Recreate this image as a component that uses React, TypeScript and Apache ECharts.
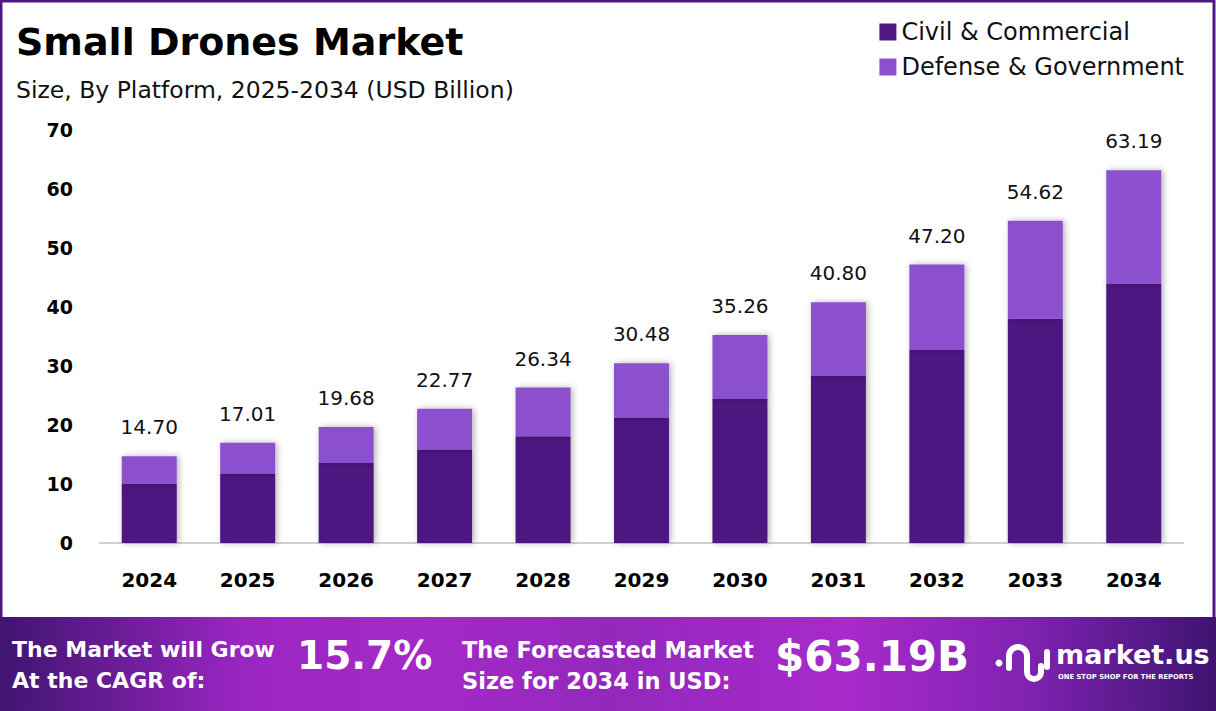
import React, { useEffect, useRef } from "react";
import * as echarts from "echarts";

const years = ["2024", "2025", "2026", "2027", "2028", "2029", "2030", "2031", "2032", "2033", "2034"];
const totals = [14.7, 17.01, 19.68, 22.77, 26.34, 30.48, 35.26, 40.8, 47.2, 54.62, 63.19];
const civil = [10.0, 11.7, 13.56, 15.76, 18.1, 21.2, 24.4, 28.3, 32.7, 38.0, 43.9];
const defense = totals.map((t, i) => +(t - civil[i]).toFixed(2));
const seriesNames = ["Civil & Commercial", "Defense & Government"];
const colors = ["#4E1781", "#8C50CD"];

const FONT = "'DejaVu Sans', 'Open Sans', sans-serif";

export default function App() {
  const ref = useRef<HTMLDivElement>(null);
  useEffect(() => {
    document.body.style.margin = "0";
    const chart = echarts.init(ref.current!, null, { renderer: "svg" });
    const white = "#ffffff";
    chart.setOption({
      animation: false,
      backgroundColor: "#ffffff",
      textStyle: { fontFamily: FONT },
      title: {
        text: "Small Drones Market",
        subtext: "Size, By Platform, 2025-2034 (USD Billion)",
        left: 11,
        top: 18,
        itemGap: 17,
        textStyle: { fontSize: 38, fontWeight: "bold", color: "#000", fontFamily: FONT },
        subtextStyle: { fontSize: 23.5, color: "#111", fontFamily: FONT },
      },
      legend: {
        orient: "vertical",
        right: 27,
        top: 15,
        itemWidth: 17,
        itemHeight: 17,
        itemGap: 11,
        icon: "rect",
        textStyle: { fontSize: 24, color: "#111", fontFamily: FONT },
        data: seriesNames,
      },
      grid: { left: 100, right: 33, top: 130, bottom: 168, containLabel: false },
      xAxis: {
        type: "category",
        data: years,
        axisLine: { lineStyle: { color: "#d0d0d0", width: 2 } },
        axisTick: { show: false },
        axisLabel: { fontSize: 20, fontWeight: "bold", color: "#000", margin: 27 },
      },
      yAxis: {
        type: "value",
        min: 0,
        max: 70,
        interval: 10,
        splitLine: { show: false },
        axisLine: { show: false },
        axisTick: { show: false },
        axisLabel: { fontSize: 19, fontWeight: "bold", color: "#000", margin: 27 },
      },
      series: [
        {
          name: seriesNames[0],
          type: "bar",
          stack: "a",
          data: civil,
          barWidth: 55,
          itemStyle: {
            color: colors[0],
            shadowBlur: 6,
            shadowColor: "rgba(0,0,0,0.3)",
            shadowOffsetX: 2,
          },
        },
        {
          name: seriesNames[1],
          type: "bar",
          stack: "a",
          data: defense,
          barWidth: 55,
          itemStyle: {
            color: colors[1],
            shadowBlur: 6,
            shadowColor: "rgba(0,0,0,0.3)",
            shadowOffsetX: 2,
          },
          label: {
            show: true,
            position: "top",
            distance: 19,
            fontSize: 20,
            color: "#111",
            formatter: (p: any) => totals[p.dataIndex].toFixed(2),
          },
        },
      ],
      graphic: [
        {
          type: "rect",
          shape: { x: 1, y: 1, width: 1213, height: 709 },
          style: { fill: "none", stroke: "#4E1781", lineWidth: 3 },
          silent: true,
        },
        {
          type: "rect",
          shape: { x: 0, y: 617, width: 1216, height: 94 },
          style: {
            fill: new echarts.graphic.LinearGradient(0, 0, 1, 0, [
              { offset: 0, color: "#3f1470" },
              { offset: 0.2, color: "#9a26c2" },
              { offset: 0.35, color: "#a42ac8" },
              { offset: 0.5, color: "#9428bc" },
              { offset: 0.7, color: "#a82acc" },
              { offset: 0.85, color: "#7d22b0" },
              { offset: 1, color: "#3e1470" },
            ]),
          },
          silent: true,
        },
        {
          type: "text",
          left: 12,
          top: 634,
          style: {
            text: "The Market will Grow\nAt the CAGR of:",
            fill: white,
            font: `bold 22px ${FONT}`,
            lineHeight: 31,
          },
        },
        {
          type: "text",
          left: 297,
          top: 636,
          style: {
            text: "15.7%",
            fill: white,
            font: `bold 39px ${FONT}`,
            shadowBlur: 6,
            shadowColor: "rgba(0,0,0,0.35)",
            shadowOffsetX: 2,
            shadowOffsetY: 2,
          },
        },
        {
          type: "text",
          left: 462,
          top: 634,
          style: {
            text: "The Forecasted Market\nSize for 2034 in USD:",
            fill: white,
            font: `bold 22.5px ${FONT}`,
            lineHeight: 31,
          },
        },
        {
          type: "text",
          left: 775,
          top: 635,
          style: {
            text: "$63.19B",
            fill: white,
            font: `bold 42px ${FONT}`,
            shadowBlur: 6,
            shadowColor: "rgba(0,0,0,0.35)",
            shadowOffsetX: 2,
            shadowOffsetY: 2,
          },
        },
        // logo icon
        { type: "circle", shape: { cx: 999, cy: 663, r: 3.5 }, style: { fill: white } },
        {
          type: "line",
          shape: { x1: 1009, y1: 668, x2: 1009, y2: 656 },
          style: { stroke: white, lineWidth: 6, lineCap: "round" },
        },
        {
          type: "arc",
          shape: { cx: 1018, cy: 656, r: 9, startAngle: Math.PI, endAngle: Math.PI * 2 },
          style: { stroke: white, lineWidth: 6, fill: "none" },
        },
        {
          type: "line",
          shape: { x1: 1027, y1: 656, x2: 1027, y2: 672 },
          style: { stroke: white, lineWidth: 6 },
        },
        {
          type: "arc",
          shape: { cx: 1034, cy: 672, r: 7, startAngle: 0, endAngle: Math.PI },
          style: { stroke: white, lineWidth: 6, fill: "none" },
        },
        {
          type: "line",
          shape: { x1: 1041, y1: 672, x2: 1041, y2: 666 },
          style: { stroke: white, lineWidth: 6, lineCap: "round" },
        },
        {
          type: "line",
          shape: { x1: 1047, y1: 652, x2: 1047, y2: 667 },
          style: { stroke: white, lineWidth: 6, lineCap: "round" },
        },
        {
          type: "text",
          left: 1056,
          top: 641,
          style: { text: "market.us", fill: white, font: `bold 27px ${FONT}` },
        },
        {
          type: "text",
          left: 1058,
          top: 673,
          style: { text: "ONE STOP SHOP FOR THE REPORTS", fill: white, font: `bold 6.8px ${FONT}` },
        },
      ],
    });
    return () => chart.dispose();
  }, []);
  return <div ref={ref} style={{ position: "fixed", left: 0, top: 0, width: 1216, height: 711 }} />;
}
